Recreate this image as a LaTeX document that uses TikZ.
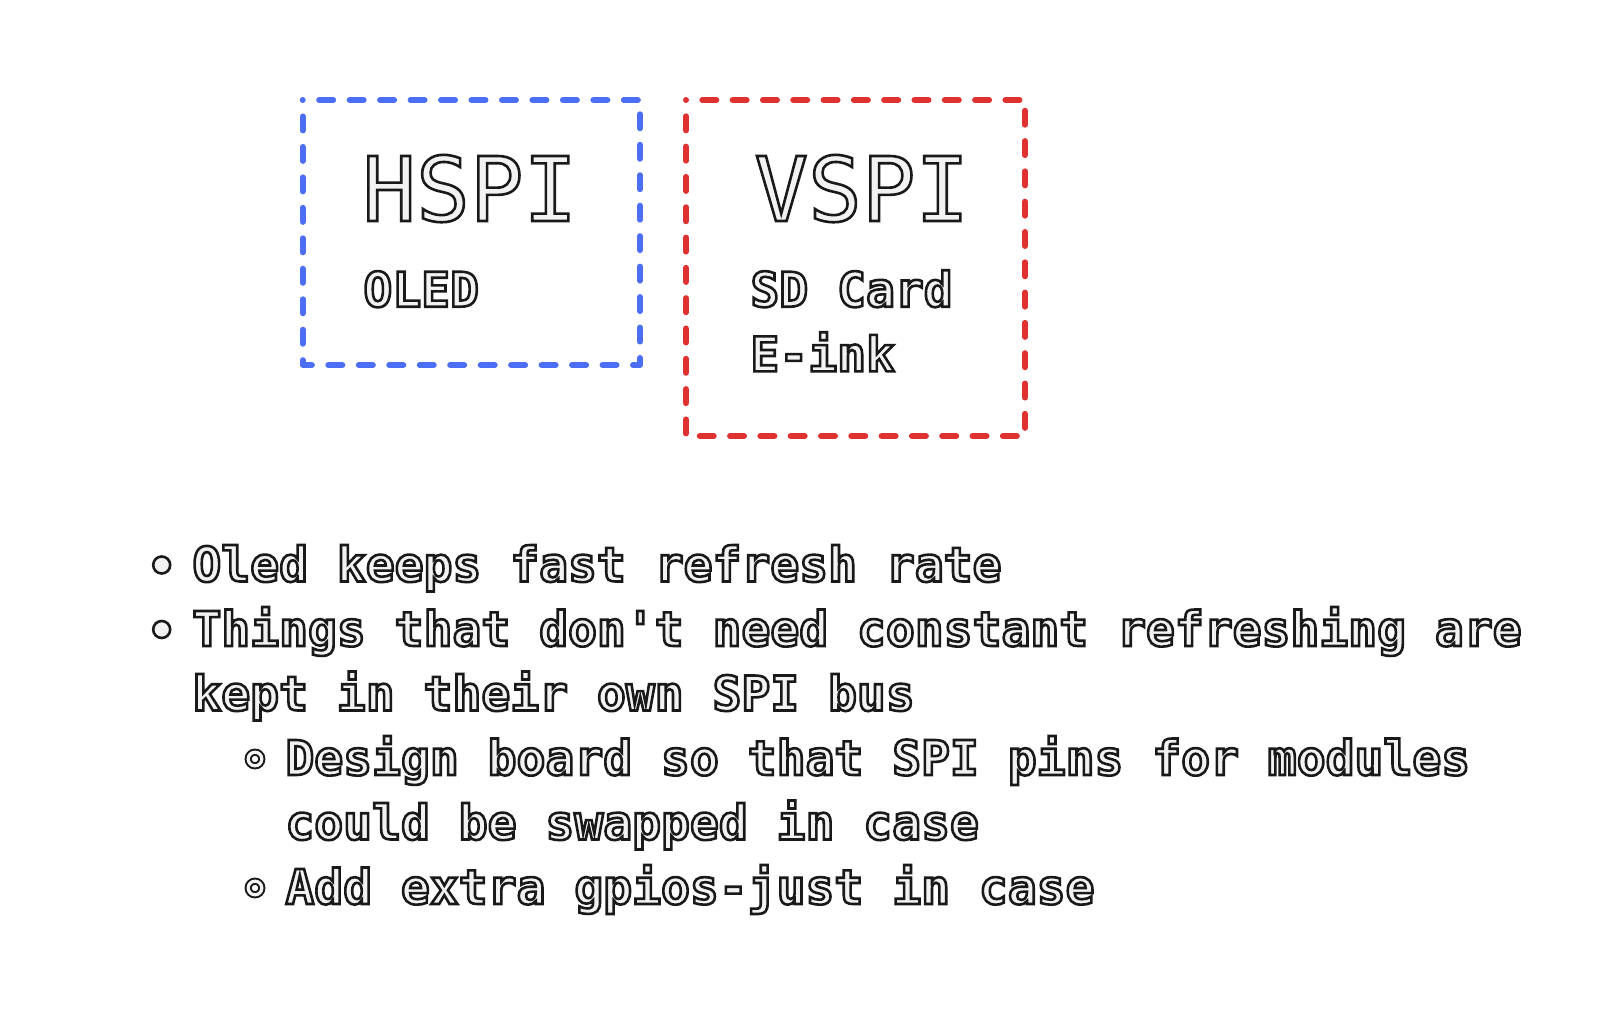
\documentclass[tikz,border=0pt]{standalone}
\usepackage{fontspec}
\setmonofont{DejaVu Sans Mono}
\usetikzlibrary{positioning,decorations}
\definecolor{hblue}{HTML}{4C6EF5}
\definecolor{vred}{HTML}{E03131}
% hollow letters: stroke the outline, fill light grey
\newcommand{\hollow}[1]{\special{pdf:code q 2 Tr 1.3 w 0.1 0.1 0.1 RG 0.95 0.95 0.95 rg}#1\special{pdf:code Q}}
\tikzset{
  bus/.style={line width=3pt, line cap=round, line join=round,
    dash pattern=on 7pt off 8pt, dash expand off},
  txt/.style={anchor=base west, inner sep=0pt, font=\ttfamily\bfseries\fontsize{24}{30}\selectfont},
  big/.style={txt, font=\ttfamily\fontsize{44.6}{50}\selectfont},
  dot/.style={circle, draw=black!90, line width=1.3pt, fill=black!5, inner sep=0pt, minimum size=8.5pt},
  ring/.style={circle, draw=black!90, line width=1pt, double=black!5, double distance=1.6pt,
    inner sep=0pt, minimum size=6.8pt}
}

\begin{document}
\begin{tikzpicture}[x=0.5pt,y=-0.5pt]
    \useasboundingbox (0,0) rectangle (1624,1018);
    %the two buses
    \draw[bus,draw=hblue] (302.7,100) rectangle (640,365);
    \draw[bus,draw=vred] (686,100) rectangle (1025,436);
    \node[big] (hspi) at (362,221) {\hollow{HSPI}};
    \node[txt] (oled) at (363,306.7) {\hollow{OLED}};
    \node[big] (vspi) at (754,221) {\hollow{VSPI}};
    \node[txt] (sdcard) at (750,306.7) {\hollow{SD Card}};
    \node[txt] (eink) at (750,371.3) {\hollow{E-ink}};
    %notes
    \node[dot] (b1) at (161.7,565) {};
    \node[dot] (b2) at (161.7,629.5) {};
    \node[ring] (b3) at (255,759) {};
    \node[ring] (b4) at (255,888) {};
    \node[txt] (l1) at (192,581.5) {\hollow{Oled keeps fast refresh rate}};
    \node[txt] (l2) at (192,646) {\hollow{Things that don't need constant refreshing are}};
    \node[txt] (l3) at (192,710.5) {\hollow{kept in their own SPI bus}};
    \node[txt] (l4) at (285,775) {\hollow{Design board so that SPI pins for modules}};
    \node[txt] (l5) at (285,839.5) {\hollow{could be swapped in case}};
    \node[txt] (l6) at (285,904) {\hollow{Add extra gpios-just in case}};
\end{tikzpicture}
\end{document}
